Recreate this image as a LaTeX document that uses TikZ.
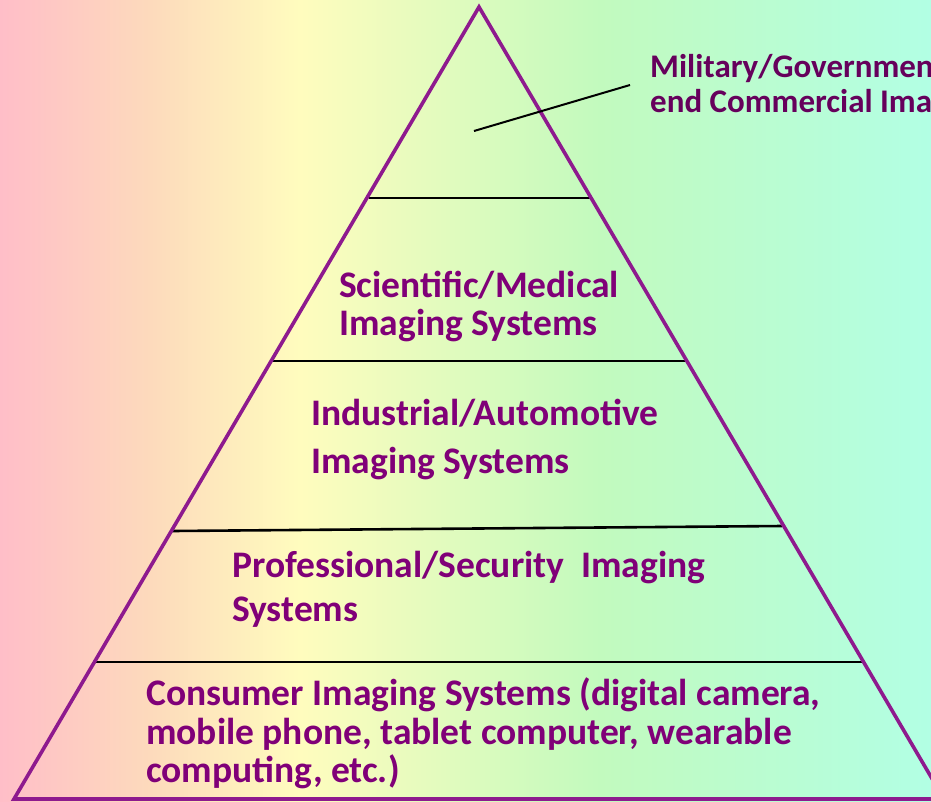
\documentclass[tikz,border=0pt]{standalone}
\usepackage{fontspec}
\setmainfont{Carlito}
\usepackage{xcolor}
\usetikzlibrary{positioning}

\definecolor{bgpink}{RGB}{255,190,200}
\definecolor{bgpeach}{RGB}{253,218,188}
\definecolor{bgyellow}{RGB}{255,252,190}
\definecolor{bggreen}{RGB}{194,250,190}
\definecolor{bgaqua}{RGB}{178,255,228}
\definecolor{pyrline}{RGB}{142,26,142}
\definecolor{tierText}{RGB}{128,0,120}
\definecolor{topText}{RGB}{102,0,92}

\begin{document}
\begin{tikzpicture}[x=1pt, y=-1pt]
            \tikzstyle{tier} = [anchor=base west, inner sep=0pt, text=tierText, font=\fontsize{37.5}{38}\selectfont\bfseries]
            \tikzstyle{toplabel} = [tier, text=topText, font=\fontsize{33}{35}\selectfont\bfseries]
            \tikzstyle{divider} = [draw=black, line width=2.6pt]
            \useasboundingbox (0,0) rectangle (931,801);
            \begin{scope}
                \clip (0,0) rectangle (931,801);
                % background
                \shade [left color=bgpink, right color=bgpeach] (0,0) rectangle (150,801);
                \shade [left color=bgpeach, right color=bgyellow] (150,0) rectangle (300,801);
                \shade [left color=bgyellow, right color=bggreen] (300,0) rectangle (600,801);
                \shade [left color=bggreen, right color=bgaqua] (600,0) rectangle (931,801);

                \coordinate (apex) at (479,7);
                \coordinate (baseL) at (14,799);
                \coordinate (baseR) at (944,799);

                \coordinate (d1l) at (369,198);
                \coordinate (d1r) at (590,198);
                \coordinate (d2l) at (272,361);
                \coordinate (d2r) at (686,361);
                \coordinate (d3l) at (172,531);
                \coordinate (d3r) at (782,526);
                \coordinate (d4l) at (96,662);
                \coordinate (d4r) at (862,662);

                \foreach \i in {1,...,4}
                    \draw [divider] (d\i l) -- (d\i r);

                \draw [pyrline, line width=3.6pt, line join=miter] (apex) -- (baseL) -- (baseR) -- cycle;

                % pointer to the top tier
                \coordinate (ptrA) at (474,131);
                \coordinate (ptrB) at (630,85);
                \draw [black, line width=2pt] (ptrA) -- (ptrB);

                \node [toplabel] (M1) at (650,77) {Military/Government};
                \node [toplabel] (M2) at (650,112) {end Commercial Imaging};

                \node [tier] (S1) at (339,297) {Scientific/Medical};
                \node [tier] (S2) at (339,335) {Imaging Systems};

                \node [tier] (I1) at (311,425) {Industrial/Automotive};
                \node [tier] (I2) at (311,473) {Imaging Systems};

                \node [tier] (P1) at (232,577) {Professional/Security\ \ Imaging};
                \node [tier] (P2) at (232,621) {Systems};

                \node [tier] (C1) at (146,705) {Consumer Imaging Systems (digital camera,};
                \node [tier] (C2) at (146,744) {mobile phone, tablet computer, wearable};
                \node [tier] (C3) at (146,782) {computing, etc.)};
            \end{scope}
        \end{tikzpicture}
\end{document}
